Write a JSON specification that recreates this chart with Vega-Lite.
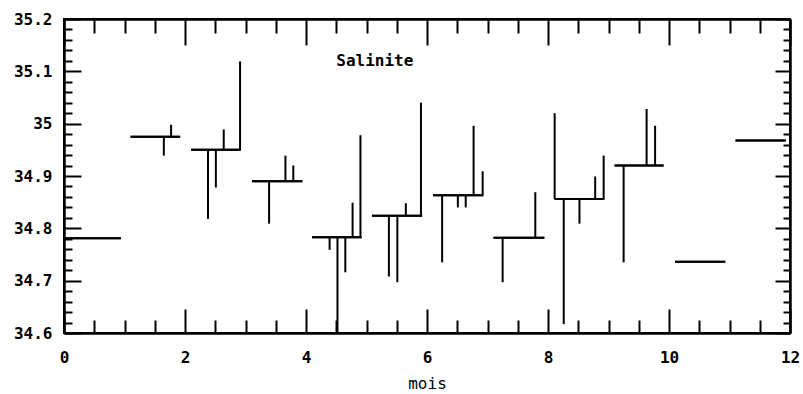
{
  "$schema": "https://vega.github.io/schema/vega-lite/v6.json",
  "width": 726,
  "height": 314,
  "autosize": {"type": "none"},
  "padding": {"left": 64, "top": 19, "right": 13, "bottom": 61},
  "background": "white",
  "config": {
    "view": {"stroke": "black", "strokeWidth": 2},
    "axis": {
      "labelFont": "DejaVu Sans Mono",
      "labelFontSize": 16,
      "labelFontWeight": "bold",
      "labelColor": "black",
      "tickColor": "black",
      "domainColor": "black",
      "tickWidth": 2,
      "domainWidth": 2,
      "grid": false,
      "titleFont": "DejaVu Sans Mono",
      "titleFontSize": 16,
      "titleFontWeight": "normal",
      "titleColor": "black",
      "labelFlush": false,
      "labelOverlap": false
    }
  },
  "datasets": {
    "means": [
      {"month": 1, "x0": 0.0, "x1": 0.94, "mean": 34.781},
      {"month": 2, "x0": 1.10, "x1": 1.92, "mean": 34.975},
      {"month": 3, "x0": 2.10, "x1": 2.92, "mean": 34.950},
      {"month": 4, "x0": 3.11, "x1": 3.94, "mean": 34.890},
      {"month": 5, "x0": 4.10, "x1": 4.92, "mean": 34.783},
      {"month": 6, "x0": 5.09, "x1": 5.92, "mean": 34.824},
      {"month": 7, "x0": 6.10, "x1": 6.93, "mean": 34.863},
      {"month": 8, "x0": 7.10, "x1": 7.94, "mean": 34.782},
      {"month": 9, "x0": 8.11, "x1": 8.93, "mean": 34.856},
      {"month": 10, "x0": 9.10, "x1": 9.91, "mean": 34.920},
      {"month": 11, "x0": 10.10, "x1": 10.93, "mean": 34.736},
      {"month": 12, "x0": 11.10, "x1": 11.93, "mean": 34.968}
    ],
    "obs": [
      {"month": 2, "t": 1.65, "mean": 34.975, "value": 34.939},
      {"month": 2, "t": 1.77, "mean": 34.975, "value": 34.998},
      {"month": 3, "t": 2.38, "mean": 34.950, "value": 34.818},
      {"month": 3, "t": 2.51, "mean": 34.950, "value": 34.878},
      {"month": 3, "t": 2.64, "mean": 34.950, "value": 34.989},
      {"month": 3, "t": 2.91, "mean": 34.950, "value": 35.119},
      {"month": 4, "t": 3.39, "mean": 34.890, "value": 34.809},
      {"month": 4, "t": 3.66, "mean": 34.890, "value": 34.939},
      {"month": 4, "t": 3.79, "mean": 34.890, "value": 34.920},
      {"month": 5, "t": 4.39, "mean": 34.783, "value": 34.759},
      {"month": 5, "t": 4.52, "mean": 34.783, "value": 34.602},
      {"month": 5, "t": 4.65, "mean": 34.783, "value": 34.716},
      {"month": 5, "t": 4.77, "mean": 34.783, "value": 34.849},
      {"month": 5, "t": 4.90, "mean": 34.783, "value": 34.978},
      {"month": 6, "t": 5.37, "mean": 34.824, "value": 34.708},
      {"month": 6, "t": 5.51, "mean": 34.824, "value": 34.697},
      {"month": 6, "t": 5.65, "mean": 34.824, "value": 34.848},
      {"month": 6, "t": 5.90, "mean": 34.824, "value": 35.040},
      {"month": 7, "t": 6.25, "mean": 34.863, "value": 34.735},
      {"month": 7, "t": 6.51, "mean": 34.863, "value": 34.840},
      {"month": 7, "t": 6.64, "mean": 34.863, "value": 34.840},
      {"month": 7, "t": 6.77, "mean": 34.863, "value": 34.996},
      {"month": 7, "t": 6.92, "mean": 34.863, "value": 34.909},
      {"month": 8, "t": 7.25, "mean": 34.782, "value": 34.697},
      {"month": 8, "t": 7.79, "mean": 34.782, "value": 34.869},
      {"month": 9, "t": 8.11, "mean": 34.856, "value": 35.020},
      {"month": 9, "t": 8.26, "mean": 34.856, "value": 34.617},
      {"month": 9, "t": 8.52, "mean": 34.856, "value": 34.809},
      {"month": 9, "t": 8.78, "mean": 34.856, "value": 34.899},
      {"month": 9, "t": 8.92, "mean": 34.856, "value": 34.939},
      {"month": 10, "t": 9.25, "mean": 34.920, "value": 34.735},
      {"month": 10, "t": 9.63, "mean": 34.920, "value": 35.028},
      {"month": 10, "t": 9.77, "mean": 34.920, "value": 34.996}
    ],
    "labels": [
      {"x": 4.5, "y": 35.119, "text": "Salinite"}
    ]
  },
  "layer": [
    {
      "data": {"name": "means"},
      "mark": {"type": "rule", "color": "black", "strokeWidth": 2},
      "encoding": {
        "x": {
          "field": "x0", "type": "quantitative",
          "scale": {"domain": [0, 12], "nice": false, "zero": false},
          "axis": {"orient": "bottom", "values": [0, 2, 4, 6, 8, 10, 12], "tickSize": -24, "labelPadding": 40, "format": "~g", "title": "mois", "titlePadding": 10}
        },
        "x2": {"field": "x1"},
        "y": {
          "field": "mean", "type": "quantitative",
          "scale": {"domain": [34.6, 35.2], "nice": false, "zero": false},
          "axis": {"orient": "left", "values": [34.6, 34.7, 34.8, 34.9, 35, 35.1, 35.2], "tickSize": -17, "labelPadding": 29, "format": "~g", "title": null}
        }
      }
    },
    {
      "data": {"name": "obs"},
      "mark": {"type": "rule", "color": "black", "strokeWidth": 2},
      "encoding": {
        "x": {
          "field": "t", "type": "quantitative",
          "scale": {"domain": [0, 12], "nice": false, "zero": false},
          "axis": {"orient": "top", "values": [0, 2, 4, 6, 8, 10, 12], "tickSize": -26, "labels": false, "title": null}
        },
        "y": {
          "field": "mean", "type": "quantitative",
          "scale": {"domain": [34.6, 35.2], "nice": false, "zero": false},
          "axis": {"orient": "right", "values": [34.6, 34.7, 34.8, 34.9, 35, 35.1, 35.2], "tickSize": -15, "labels": false, "title": null}
        },
        "y2": {"field": "value"}
      }
    },
    {
      "data": {"name": "labels"},
      "mark": {"type": "text", "align": "left", "baseline": "middle", "font": "DejaVu Sans Mono", "fontSize": 16, "fontWeight": "bold", "color": "black"},
      "encoding": {
        "x": {
          "field": "x", "type": "quantitative",
          "scale": {"domain": [0, 12], "nice": false, "zero": false},
          "axis": {"orient": "bottom", "values": [0.5, 1, 1.5, 2.5, 3, 3.5, 4.5, 5, 5.5, 6.5, 7, 7.5, 8.5, 9, 9.5, 10.5, 11, 11.5], "tickSize": -13, "labels": false, "title": null}
        },
        "y": {
          "field": "y", "type": "quantitative",
          "scale": {"domain": [34.6, 35.2], "nice": false, "zero": false},
          "axis": {"orient": "left", "values": [34.62, 34.64, 34.66, 34.68, 34.72, 34.74, 34.76, 34.78, 34.82, 34.84, 34.86, 34.88, 34.92, 34.94, 34.96, 34.98, 35.02, 35.04, 35.06, 35.08, 35.12, 35.14, 35.16, 35.18], "tickSize": -8, "labels": false, "title": null}
        },
        "text": {"field": "text"}
      }
    },
    {
      "data": {"name": "means"},
      "mark": {"type": "rule", "color": "black", "strokeWidth": 2},
      "encoding": {
        "x": {
          "field": "x0", "type": "quantitative",
          "scale": {"domain": [0, 12], "nice": false, "zero": false},
          "axis": {"orient": "top", "values": [0.5, 1, 1.5, 2.5, 3, 3.5, 4.5, 5, 5.5, 6.5, 7, 7.5, 8.5, 9, 9.5, 10.5, 11, 11.5], "tickSize": -14, "labels": false, "title": null}
        },
        "x2": {"field": "x1"},
        "y": {
          "field": "mean", "type": "quantitative",
          "scale": {"domain": [34.6, 35.2], "nice": false, "zero": false},
          "axis": {"orient": "right", "values": [34.62, 34.64, 34.66, 34.68, 34.72, 34.74, 34.76, 34.78, 34.82, 34.84, 34.86, 34.88, 34.92, 34.94, 34.96, 34.98, 35.02, 35.04, 35.06, 35.08, 35.12, 35.14, 35.16, 35.18], "tickSize": -7, "labels": false, "title": null}
        }
      }
    }
  ],
  "resolve": {"axis": {"x": "independent", "y": "independent"}}
}
